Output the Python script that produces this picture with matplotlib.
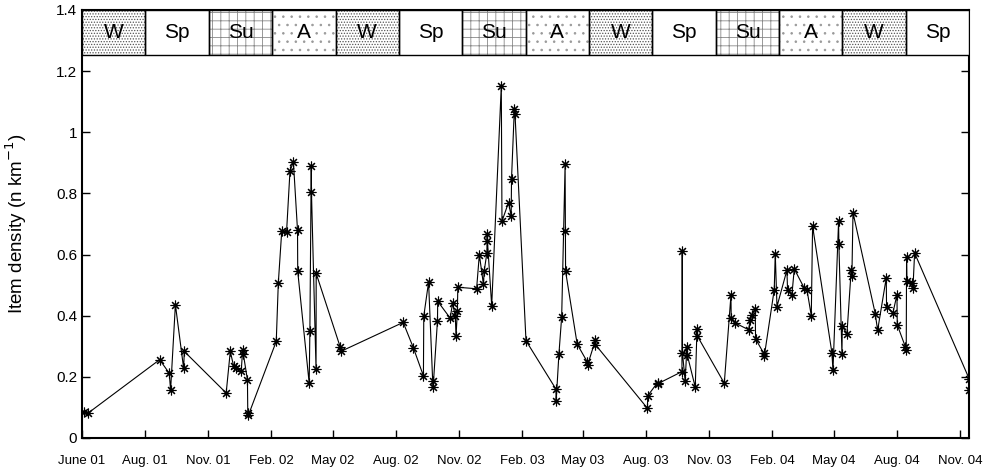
import matplotlib
matplotlib.use("Agg")
import matplotlib.pyplot as plt
from matplotlib.patches import Rectangle

plt.rcParams['font.family'] = ['Liberation Sans', 'DejaVu Sans']
plt.rcParams['hatch.linewidth'] = 0.6

# days counted from the left edge of the axis
day = [3, 8, 113, 127, 129, 136, 148, 149, 210, 216, 221, 225, 232, 234, 235, 241, 241.5, 242.5,
       283, 286, 291, 298, 303, 308, 314, 314.3, 331, 332, 334, 334.3, 341, 341.2, 376, 377,
       468, 483, 497.5, 498, 505, 511, 511.7, 518, 518.3, 536.5, 540, 544, 545, 547, 547.6,
       575, 579, 585, 586, 590, 590.4, 590.8, 597, 611, 612, 621.5, 625.4, 625.9, 630, 631,
       647, 690.6, 691, 695, 699, 704, 704.4, 704.7, 721.6, 736, 737, 748, 748.3,
       824, 824.4, 838.7, 839.7, 874.3, 874.7, 875.1, 879, 881.5, 882, 893.7, 896.2, 896.6,
       936, 945.7, 946.1, 952, 971.4, 973.8, 976.3, 981.1, 981.6, 993.2, 994.3,
       1008.8, 1010.3, 1012.8, 1027.3, 1028.2, 1034.6, 1038, 1052.6, 1056.5, 1062.8, 1064.7,
       1092.9, 1094.4, 1102.6, 1103, 1107.5, 1108, 1114.8, 1121, 1122, 1123.6,
       1156, 1159.5, 1172.1, 1172.5, 1181.8, 1187.7, 1188.1, 1199.8, 1201.2, 1201.7, 1202.2,
       1209.5, 1211, 1213.4, 1293, 1293]
density = [0.085, 0.08, 0.256, 0.212, 0.157, 0.436, 0.228, 0.283, 0.147, 0.283, 0.234, 0.228, 0.22, 0.289, 0.275, 0.19, 0.082, 0.075,
           0.316, 0.507, 0.677, 0.673, 0.873, 0.903, 0.679, 0.545, 0.179, 0.349, 0.89, 0.804, 0.225, 0.538, 0.299, 0.283,
           0.378, 0.294, 0.203, 0.398, 0.51, 0.185, 0.168, 0.384, 0.447, 0.392, 0.441, 0.398, 0.332, 0.414, 0.493,
           0.488, 0.6, 0.502, 0.545, 0.605, 0.666, 0.644, 0.433, 1.152, 0.709, 0.77, 0.726, 0.848, 1.075, 1.059,
           0.318, 0.16, 0.122, 0.275, 0.396, 0.895, 0.676, 0.545, 0.307, 0.25, 0.24, 0.319, 0.305,
           0.097, 0.138, 0.181, 0.178, 0.217, 0.611, 0.278, 0.185, 0.299, 0.272, 0.166, 0.356, 0.334,
           0.179, 0.466, 0.392, 0.376, 0.354, 0.387, 0.403, 0.422, 0.324, 0.278, 0.267,
           0.485, 0.603, 0.43, 0.549, 0.485, 0.469, 0.553, 0.49, 0.485, 0.4, 0.693,
           0.278, 0.221, 0.709, 0.636, 0.275, 0.365, 0.341, 0.551, 0.529, 0.737,
           0.407, 0.352, 0.524, 0.43, 0.409, 0.469, 0.37, 0.299, 0.289, 0.591, 0.512,
           0.507, 0.49, 0.605, 0.193, 0.157]

tick_days = [0, 92, 184, 276, 365, 457, 549, 641, 730, 822, 914, 1006, 1096, 1188, 1280]
tick_labels = ['June 01', 'Aug. 01', 'Nov. 01', 'Feb. 02', 'May 02', 'Aug. 02', 'Nov. 02',
               'Feb. 03', 'May 03', 'Aug. 03', 'Nov. 03', 'Feb. 04', 'May 04', 'Aug. 04', 'Nov. 04']

seasons = ['W', 'Sp', 'Su', 'A', 'W', 'Sp', 'Su', 'A', 'W', 'Sp', 'Su', 'A', 'W', 'Sp']
hatches = {'W': '......', 'Sp': '', 'Su': '++', 'A': '..'}
hatch_cols = {'W': '#555555', 'Sp': 'white', 'Su': '#888888', 'A': '#999999'}

fig = plt.figure(figsize=(9.89, 4.75), dpi=100)
ax = fig.add_axes([0.083, 0.078, 0.897, 0.901])

ax.plot(day, density, color='black', lw=0.8, marker=(8, 2, 0), ms=7, mew=0.8)

xmax = 1293
ax.set_xlim(0, xmax)
ax.set_ylim(0, 1.4)

# season band along the top
w = xmax / len(seasons)
for i, s in enumerate(seasons):
    ax.add_patch(Rectangle((i * w, 1.252), w, 0.148, facecolor='white',
                           edgecolor=hatch_cols[s], hatch=hatches[s], lw=0, zorder=3))
    ax.add_patch(Rectangle((i * w, 1.252), w, 0.148, facecolor='none',
                           edgecolor='black', lw=1.0, zorder=4))
    ax.text((i + 0.5) * w, 1.326, s, ha='center', va='center', fontsize=15, zorder=5)

ax.set_xticks(tick_days)
ax.set_xticklabels(tick_labels, fontsize=9.5)
ax.set_yticks([0, 0.2, 0.4, 0.6, 0.8, 1.0, 1.2, 1.4])
ax.set_yticklabels(['0', '0.2', '0.4', '0.6', '0.8', '1', '1.2', '1.4'], fontsize=11)
ax.tick_params(direction='in', length=6, width=1, right=True, top=False)
ax.tick_params(axis='x', pad=12)
for sp in ax.spines.values():
    sp.set_linewidth(1.5)

ax.set_ylabel('Item density (n km$^{-1}$)', fontsize=13.5)
ax.yaxis.set_label_coords(-0.06, 0.5)

fig.savefig('out.png', dpi=100)
